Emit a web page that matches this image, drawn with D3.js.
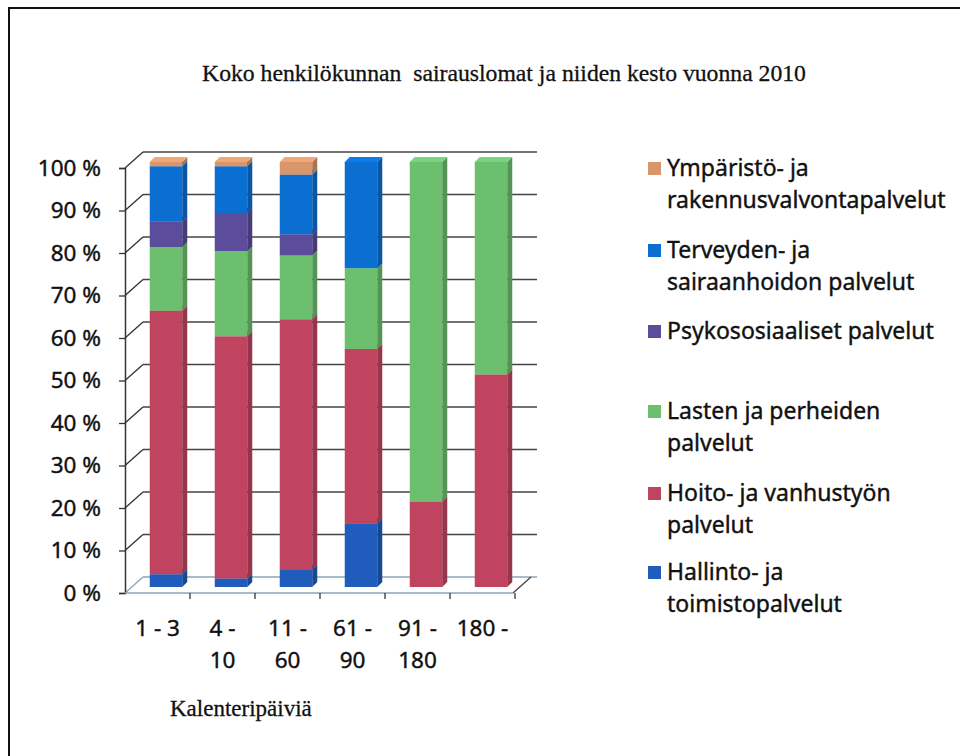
<!DOCTYPE html>
<html>
<head>
<meta charset="utf-8">
<script src="https://cdn.jsdelivr.net/npm/d3@7"></script>
<style>
  body { margin: 0; background: #fff; }
  svg { display: block; }
</style>
</head>
<body>
<svg id="chart" width="960" height="756"></svg>
<script>
// categories (calendar days), each label split into lines
const categories = ["1 - 3", "4 - 10", "11 - 60", "61 - 90", "91 - 180", "180 -"];
const categoryLines = [["1 - 3"], ["4 -", "10"], ["11 -", "60"], ["61 -", "90"], ["91 -", "180"], ["180 -"]];

// series, bottom of the stack first
const seriesNames = ["Hallinto", "Hoito", "Lasten", "Psyko", "Terveyden", "Ymparisto"];
const hallinto = [3, 2, 4, 15, 0, 0];
const hoito = [62, 57, 59, 41, 20, 50];
const lasten = [15, 20, 15, 19, 80, 50];
const psyko = [6, 9, 5, 0, 0, 0];
const terveyden = [13, 11, 14, 25, 0, 0];
const ymparisto = [1, 1, 3, 0, 0, 0];

// legend labels (top to bottom as in the legend)
const legendKeys = ["Ymparisto", "Terveyden", "Psyko", "Lasten", "Hoito", "Hallinto"];
const legendLines = [
  ["Ympäristö- ja", "rakennusvalvontapalvelut"],
  ["Terveyden- ja", "sairaanhoidon palvelut"],
  ["Psykososiaaliset palvelut"],
  ["Lasten ja perheiden", "palvelut"],
  ["Hoito- ja vanhustyön", "palvelut"],
  ["Hallinto- ja", "toimistopalvelut"]
];
const yTicks = [0, 10, 20, 30, 40, 50, 60, 70, 80, 90, 100];

const title = "Koko henkilökunnan  sairauslomat ja niiden kesto vuonna 2010";
const xTitle = "Kalenteripäiviä";

const colors = {
  Hallinto: "#1f5cbc",
  Hoito: "#c04460",
  Lasten: "#6cbf6e",
  Psyko: "#5b4c9c",
  Terveyden: "#0b6fd2",
  Ymparisto: "#d9966a"
};

const sans = "'Noto Sans', 'Open Sans', sans-serif";
const serif = "'Liberation Serif', 'DejaVu Serif', serif";

const svg = d3.select("#chart");

// frame of the scanned page
svg.append("path")
  .attr("d", "M9,756 L9,8 L960,8")
  .attr("fill", "none")
  .attr("stroke", "#111")
  .attr("stroke-width", 2);

// title
svg.append("text")
  .attr("x", 504)
  .attr("y", 81)
  .attr("text-anchor", "middle")
  .style("font-family", serif)
  .style("font-size", "23.7px")
  .style("white-space", "pre")
  .attr("fill", "#111")
  .attr("stroke", "#111")
  .attr("stroke-width", 0.3)
  .text(title);

// plot geometry: front plane and depth offset of the back wall
let plotLeft = 125,
  plotRight = 515,
  plotBottom = 593,
  plotTop = 168,
  depthX = 18,
  depthY = -16;

let xScale = d3.scaleBand().domain(categories).range([plotLeft, plotRight]);
let yScale = d3.scaleLinear().domain([0, 100]).range([plotBottom, plotTop]);

// back wall gridlines + left wall diagonals
let grid = svg.append("g");
grid.selectAll(".hline")
  .data(yTicks)
  .enter()
  .append("line")
  .attr("x1", plotLeft + depthX)
  .attr("x2", plotRight + depthX + 4)
  .attr("y1", (d) => yScale(d) + depthY)
  .attr("y2", (d) => yScale(d) + depthY)
  .attr("stroke", (d) => (d === 0 ? "#8fa3b5" : "#444"))
  .attr("stroke-width", 1.3);
grid.selectAll(".dline")
  .data(yTicks)
  .enter()
  .append("line")
  .attr("x1", plotLeft)
  .attr("x2", plotLeft + depthX)
  .attr("y1", (d) => yScale(d))
  .attr("y2", (d) => yScale(d) + depthY)
  .attr("stroke", (d) => (d === 0 ? "#8fa3b5" : "#333"))
  .attr("stroke-width", 1.3);
// right edge of the floor
grid.append("line")
  .attr("x1", plotRight - 2)
  .attr("y1", plotBottom)
  .attr("x2", plotRight - 2 + depthX)
  .attr("y2", plotBottom + depthY)
  .attr("stroke", "#444")
  .attr("stroke-width", 1.3);

// y axis on the front plane
let yAxis = d3.axisLeft(yScale)
  .tickValues(yTicks)
  .tickSize(6)
  .tickPadding(18)
  .tickFormat((d) => d + " %");
let yg = svg.append("g")
  .attr("transform", `translate(${plotLeft},0)`)
  .call(yAxis);
yg.select(".domain").attr("stroke", "#333").attr("stroke-width", 1.5);
yg.selectAll(".tick line").attr("stroke", "#333").attr("stroke-width", 1.3);
yg.selectAll(".tick text")
  .attr("fill", "#111")
  .attr("stroke", "#111")
  .attr("stroke-width", 0.4)
  .style("font-family", sans)
  .style("font-size", "22.5px");

// x axis: front floor line with ticks between categories
let xg = svg.append("g");
xg.append("line")
  .attr("x1", plotLeft)
  .attr("x2", plotRight - 2)
  .attr("y1", plotBottom)
  .attr("y2", plotBottom)
  .attr("stroke", "#8fa3b5")
  .attr("stroke-width", 1.5);
xg.selectAll(".xtick")
  .data(categories)
  .enter()
  .append("line")
  .attr("x1", (d) => xScale(d) + xScale.bandwidth())
  .attr("x2", (d) => xScale(d) + xScale.bandwidth())
  .attr("y1", plotBottom)
  .attr("y2", plotBottom + 6)
  .attr("stroke", "#333")
  .attr("stroke-width", 1.3);
xg.selectAll(".xlabel")
  .data(categories)
  .enter()
  .append("text")
  .attr("text-anchor", "middle")
  .attr("fill", "#111")
  .attr("stroke", "#111")
  .attr("stroke-width", 0.4)
  .style("font-family", sans)
  .style("font-size", "22.5px")
  .each(function (d, i) {
    let t = d3.select(this);
    categoryLines[i].forEach((line, j) => {
      t.append("tspan")
        .attr("x", xScale(d) + xScale.bandwidth() / 2)
        .attr("y", 636 + j * 32)
        .text(line);
    });
  });

svg.append("text")
  .attr("x", 170)
  .attr("y", 716)
  .attr("fill", "#111")
  .attr("stroke", "#111")
  .attr("stroke-width", 0.3)
  .style("font-family", serif)
  .style("font-size", "23px")
  .text(xTitle);

// stacked 3d bars
let table = categories.map((c, i) => ({
  cat: c,
  Hallinto: hallinto[i],
  Hoito: hoito[i],
  Lasten: lasten[i],
  Psyko: psyko[i],
  Terveyden: terveyden[i],
  Ymparisto: ymparisto[i]
}));
let stacked = d3.stack().keys(seriesNames)(table);

let barW = xScale.bandwidth() * 0.5,
  barDx = 8.5, // bars sit half way into the depth
  barDy = -6,
  faceD = 5; // depth of the bar itself

let bars = svg.append("g");
stacked.forEach((layer) => {
  let col = colors[layer.key];
  let g = bars.append("g");
  let segs = layer.filter((d) => d[1] - d[0] > 0);
  // front face
  g.selectAll(".front")
    .data(segs)
    .enter()
    .append("rect")
    .attr("x", (d) => xScale(d.data.cat) + (xScale.bandwidth() - barW) / 2 + barDx)
    .attr("y", (d) => yScale(d[1]) + barDy)
    .attr("width", barW)
    .attr("height", (d) => yScale(d[0]) - yScale(d[1]))
    .attr("fill", col);
  // side face
  g.selectAll(".side")
    .data(segs)
    .enter()
    .append("path")
    .attr("d", (d) => {
      let x1 = xScale(d.data.cat) + (xScale.bandwidth() + barW) / 2 + barDx;
      let yt = yScale(d[1]) + barDy,
        yb = yScale(d[0]) + barDy;
      return `M${x1},${yt} L${x1 + faceD},${yt - faceD} L${x1 + faceD},${yb - faceD} L${x1},${yb} Z`;
    })
    .attr("fill", d3.color(col).darker(0.7));
  // top face
  g.selectAll(".topface")
    .data(segs)
    .enter()
    .append("path")
    .attr("d", (d) => {
      let x0 = xScale(d.data.cat) + (xScale.bandwidth() - barW) / 2 + barDx;
      let yt = yScale(d[1]) + barDy;
      return `M${x0},${yt} L${x0 + faceD},${yt - faceD} L${x0 + barW + faceD},${yt - faceD} L${x0 + barW},${yt} Z`;
    })
    .attr("fill", d3.color(col).brighter(0.3));
});

// legend
let legendY = [176, 258, 339, 419, 501, 580];
let legend = svg.append("g");
legendKeys.forEach((k, i) => {
  legend.append("rect")
    .attr("x", 648)
    .attr("y", legendY[i] - 14)
    .attr("width", 13)
    .attr("height", 13)
    .attr("fill", colors[k]);
  let t = legend.append("text")
    .attr("fill", "#111")
    .attr("stroke", "#111")
    .attr("stroke-width", 0.4)
    .style("font-family", sans)
    .style("font-size", "23px");
  legendLines[i].forEach((line, j) => {
    t.append("tspan")
      .attr("x", 667)
      .attr("y", legendY[i] + j * 32)
      .text(line);
  });
});
</script>
</body>
</html>
